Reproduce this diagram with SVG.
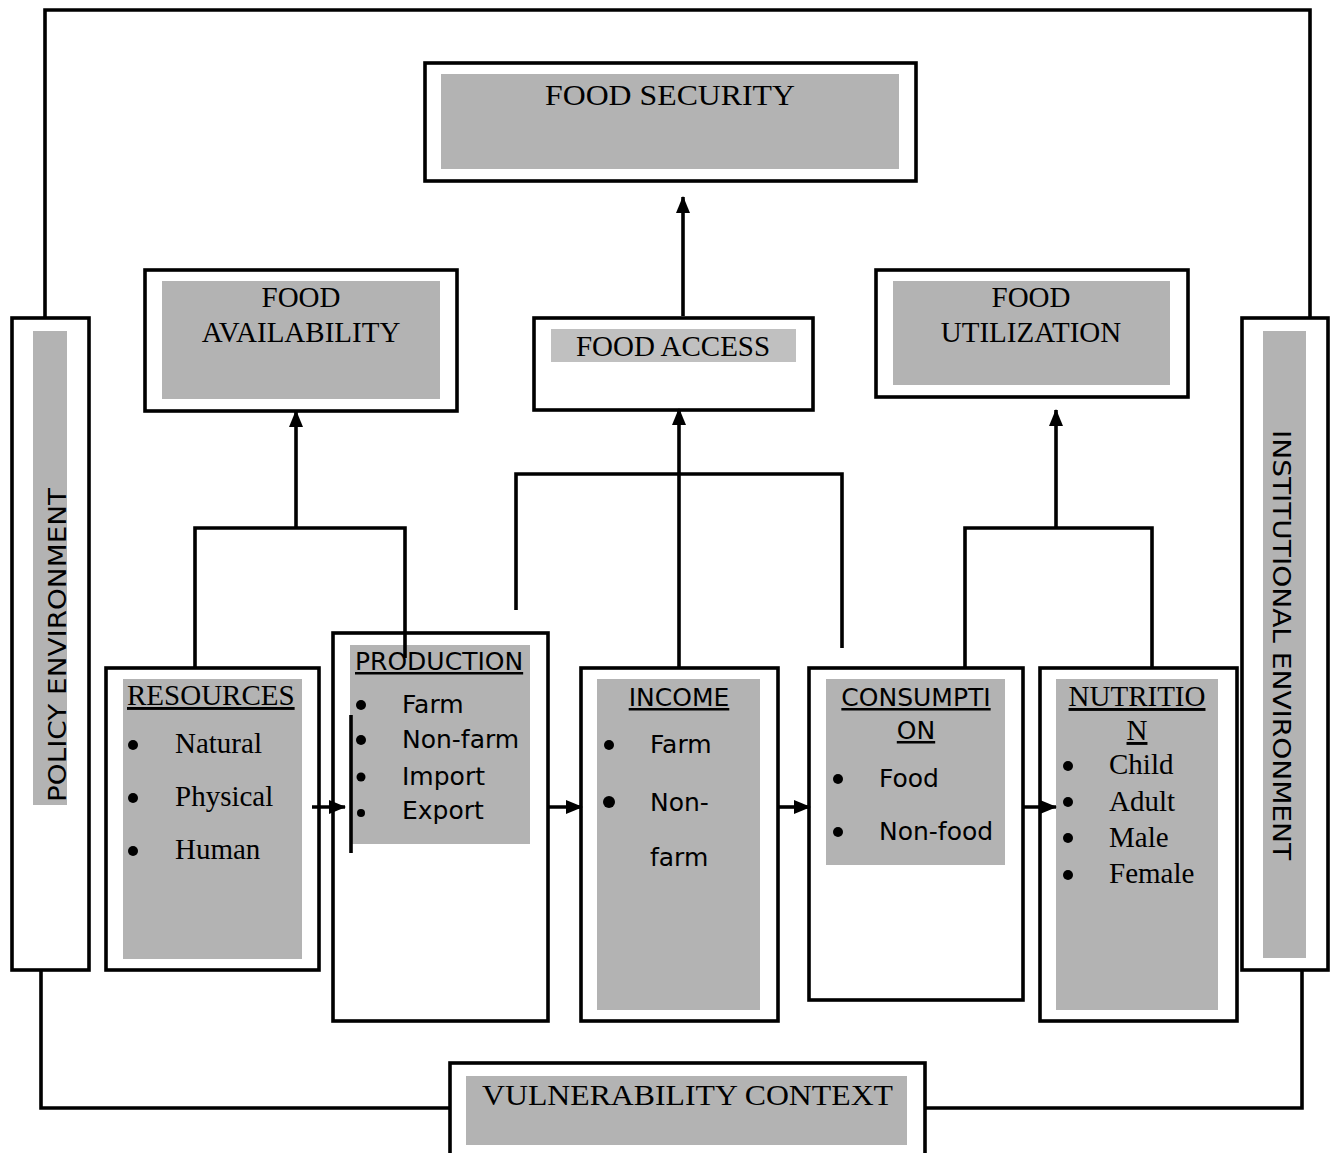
<svg xmlns="http://www.w3.org/2000/svg" width="1333" height="1153" viewBox="0 0 1333 1153">
<style>
.box{fill:#fff;stroke:#000;stroke-width:3.6}
.g{fill:#b3b3b3}
.g2{fill:#c0c0c0}
.serif{font-family:"Liberation Serif","Times New Roman",serif;font-size:29px;fill:#000}
.sans{font-family:"DejaVu Sans","Liberation Sans",sans-serif;font-size:25px;fill:#000}
.mid{text-anchor:middle}
.ul{text-decoration:underline}
.ln{fill:none;stroke:#000;stroke-width:3.6}
.b{fill:#000}
</style>
<defs>
<marker id="ah" markerUnits="userSpaceOnUse" markerWidth="18" markerHeight="18" viewBox="0 0 18 18" refX="16" refY="9" orient="auto">
<path d="M0,2 L17,9 L0,16 Z" fill="#000"/>
</marker>
</defs>

<g id="policy-environment">
<rect class="box" x="12" y="318" width="77" height="652"/>
<rect class="g" x="33" y="331" width="34" height="474"/>
<text class="sans mid" x="66" y="645" font-size="33" textLength="314" lengthAdjust="spacingAndGlyphs" transform="rotate(-90 66 645)">POLICY ENVIRONMENT</text>
</g>

<g id="institutional-environment">
<rect class="box" x="1242" y="318" width="86" height="652"/>
<rect class="g" x="1263" y="331" width="43" height="627"/>
<text class="sans mid" x="1273" y="645" font-size="33" textLength="430" lengthAdjust="spacingAndGlyphs" transform="rotate(90 1273 645)">INSTITUTIONAL ENVIRONMENT</text>
</g>

<g id="food-security">
<rect class="box" x="425" y="63" width="491" height="118"/>
<rect class="g" x="441" y="74" width="458" height="95"/>
<text class="serif mid" x="670" y="105" font-size="32" textLength="250" lengthAdjust="spacingAndGlyphs">FOOD SECURITY</text>
</g>

<g id="food-availability">
<rect class="box" x="145" y="270" width="312" height="141"/>
<rect class="g" x="162" y="281" width="278" height="118"/>
<text class="serif mid" x="301" y="307">FOOD</text>
<text class="serif mid" x="301" y="342">AVAILABILITY</text>
</g>

<g id="food-access">
<rect class="box" x="534" y="318" width="279" height="92"/>
<rect class="g2" x="551" y="329" width="245" height="33"/>
<text class="serif mid" x="673" y="356">FOOD ACCESS</text>
</g>

<g id="food-utilization">
<rect class="box" x="876" y="270" width="312" height="127"/>
<rect class="g" x="893" y="281" width="277" height="104"/>
<text class="serif mid" x="1031" y="307">FOOD</text>
<text class="serif mid" x="1031" y="342">UTILIZATION</text>
</g>

<g id="resources">
<rect class="box" x="106" y="668" width="213" height="302"/>
<rect class="g" x="123" y="679" width="179" height="280"/>
<text class="serif ul" x="127" y="705">RESOURCES</text>
<circle class="b" cx="133" cy="745" r="5"/><text class="serif" x="175" y="753">Natural</text>
<circle class="b" cx="133" cy="798" r="5"/><text class="serif" x="175" y="806">Physical</text>
<circle class="b" cx="133" cy="851" r="5"/><text class="serif" x="175" y="859">Human</text>
</g>

<g id="production">
<rect class="box" x="333" y="633" width="215" height="388"/>
<rect class="g" x="350" y="645" width="180" height="199"/>
<text class="sans ul" x="355" y="670">PRODUCTION</text>
<circle class="b" cx="361" cy="705" r="5"/><text class="sans" x="402" y="713">Farm</text>
<circle class="b" cx="361" cy="740" r="5"/><text class="sans" x="402" y="748">Non-farm</text>
<circle class="b" cx="361" cy="777" r="4.5"/><text class="sans" x="402" y="785">Import</text>
<circle class="b" cx="361" cy="813" r="4"/><text class="sans" x="402" y="819">Export</text>
</g>

<g id="income">
<rect class="box" x="581" y="668" width="197" height="353"/>
<rect class="g" x="597" y="679" width="163" height="331"/>
<text class="sans mid ul" x="679" y="706">INCOME</text>
<circle class="b" cx="609" cy="745" r="5"/><text class="sans" x="650" y="753">Farm</text>
<circle class="b" cx="609" cy="802" r="6"/><text class="sans" x="650" y="811">Non-</text>
<text class="sans" x="650" y="866">farm</text>
</g>

<g id="consumption">
<rect class="box" x="809" y="668" width="214" height="332"/>
<rect class="g" x="826" y="679" width="179" height="186"/>
<text class="sans mid ul" x="916" y="706">CONSUMPTI</text>
<text class="sans mid ul" x="916" y="739">ON</text>
<circle class="b" cx="838" cy="779" r="5"/><text class="sans" x="879" y="787">Food</text>
<circle class="b" cx="838" cy="832" r="5"/><text class="sans" x="879" y="840">Non-food</text>
</g>

<g id="nutrition">
<rect class="box" x="1040" y="668" width="197" height="353"/>
<rect class="g" x="1056" y="679" width="162" height="331"/>
<text class="serif mid ul" x="1137" y="706">NUTRITIO</text>
<text class="serif mid ul" x="1137" y="740">N</text>
<circle class="b" cx="1068" cy="766" r="5"/><text class="serif" x="1109" y="774">Child</text>
<circle class="b" cx="1068" cy="802" r="5"/><text class="serif" x="1109" y="811">Adult</text>
<circle class="b" cx="1068" cy="838" r="5"/><text class="serif" x="1109" y="847">Male</text>
<circle class="b" cx="1068" cy="875" r="5"/><text class="serif" x="1109" y="883">Female</text>
</g>

<g id="vulnerability-context">
<rect class="box" x="450" y="1063" width="475" height="100"/>
<rect class="g" x="466" y="1076" width="441" height="69"/>
<text class="serif" x="482" y="1105" font-size="34" textLength="411" lengthAdjust="spacingAndGlyphs">VULNERABILITY CONTEXT</text>
</g>

<g id="connectors">
<polyline class="ln" points="45,318 45,10 1310,10 1310,318"/>
<polyline class="ln" points="41,970 41,1108 450,1108"/>
<polyline class="ln" points="1302,970 1302,1108 925,1108"/>
<line class="ln" x1="683" y1="316" x2="683" y2="197" marker-end="url(#ah)"/>
<polyline class="ln" points="195,668 195,528 405,528 405,658"/>
<line class="ln" x1="296" y1="528" x2="296" y2="411" marker-end="url(#ah)"/>
<polyline class="ln" points="516,610 516,474 842,474 842,648"/>
<line class="ln" x1="679" y1="668" x2="679" y2="409" marker-end="url(#ah)"/>
<polyline class="ln" points="965,668 965,528 1152,528 1152,668"/>
<line class="ln" x1="1056" y1="528" x2="1056" y2="410" marker-end="url(#ah)"/>
<line class="ln" x1="312" y1="807" x2="345" y2="807" marker-end="url(#ah)"/>
<line class="ln" x1="351" y1="715" x2="351" y2="853"/>
<line class="ln" x1="548" y1="807" x2="582" y2="807" marker-end="url(#ah)"/>
<line class="ln" x1="778" y1="807" x2="810" y2="807" marker-end="url(#ah)"/>
<line class="ln" x1="1023" y1="807" x2="1056" y2="807" marker-end="url(#ah)"/>
</g>
</svg>
